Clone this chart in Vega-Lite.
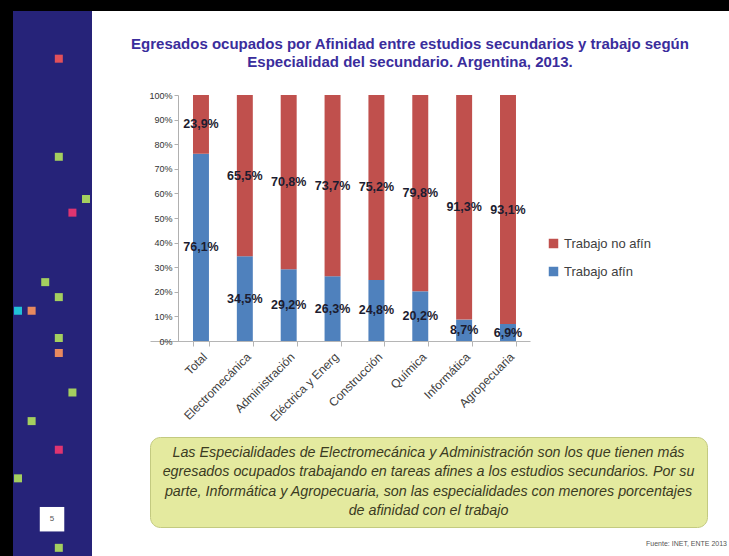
{
  "$schema": "https://vega.github.io/schema/vega-lite/v6.json",
  "background": "white",
  "padding": 0,
  "config": {
    "font": "Liberation Sans",
    "view": {"stroke": null},
    "locale": {"number": {"decimal": ",", "thousands": ".", "grouping": [3], "currency": ["$", ""]}}
  },
  "spacing": 0,
  "bounds": "flush",
  "hconcat": [
    {
      "width": 13, "height": 556,
      "view": {"fill": "black", "stroke": null},
      "data": {"values": []},
      "mark": "point",
      "encoding": {}
    },
    {
      "spacing": 0,
      "bounds": "flush",
      "vconcat": [
        {
          "width": 716, "height": 11,
          "view": {"fill": "black", "stroke": null},
          "data": {"values": []},
          "mark": "point",
          "encoding": {}
        },
        {
          "spacing": 58,
          "bounds": "flush",
          "hconcat": [
            {
              "width": 79, "height": 545,
              "view": {"fill": "#262379", "stroke": null},
              "data": {"values": [
                {"col": 3, "row": 3.5, "kind": "rojo"},
                {"col": 3, "row": 10.7, "kind": "verde"},
                {"col": 5, "row": 13.8, "kind": "verde"},
                {"col": 4, "row": 14.8, "kind": "rosa"},
                {"col": 2, "row": 19.9, "kind": "verde"},
                {"col": 3, "row": 21, "kind": "verde"},
                {"col": 0, "row": 22, "kind": "cian"},
                {"col": 1, "row": 22, "kind": "naranja"},
                {"col": 3, "row": 24, "kind": "verde"},
                {"col": 3, "row": 25.1, "kind": "naranja"},
                {"col": 4, "row": 28, "kind": "verde"},
                {"col": 1, "row": 30.1, "kind": "verde"},
                {"col": 3, "row": 32.2, "kind": "rosa"},
                {"col": 0, "row": 34.3, "kind": "verde"},
                {"col": 3, "row": 39.4, "kind": "verde"},
                {"col": 2.5, "row": 37.3, "kind": "pagina", "label": "5"}
              ]},
              "encoding": {
                "x": {"field": "col", "type": "quantitative", "axis": null, "scale": {"domain": [-0.37, 5.44], "nice": false, "zero": false}},
                "y": {"field": "row", "type": "quantitative", "axis": null, "scale": {"domain": [0, 40], "nice": false, "reverse": true}}
              },
              "layer": [
                {"transform": [{"filter": "datum.kind === 'verde'"}], "mark": {"type": "square", "size": 64, "opacity": 1, "color": "#a4cf5f"}},
                {"transform": [{"filter": "datum.kind === 'rojo'"}], "mark": {"type": "square", "size": 64, "opacity": 1, "color": "#e2505a"}},
                {"transform": [{"filter": "datum.kind === 'rosa'"}], "mark": {"type": "square", "size": 64, "opacity": 1, "color": "#df3470"}},
                {"transform": [{"filter": "datum.kind === 'cian'"}], "mark": {"type": "square", "size": 64, "opacity": 1, "color": "#21c2d8"}},
                {"transform": [{"filter": "datum.kind === 'naranja'"}], "mark": {"type": "square", "size": 64, "opacity": 1, "color": "#e8895f"}},
                {"transform": [{"filter": "datum.kind === 'pagina'"}], "mark": {"type": "square", "size": 600, "opacity": 1, "color": "white"}},
                {"transform": [{"filter": "datum.kind === 'pagina'"}], "mark": {"type": "text", "fontSize": 8, "color": "#555555", "baseline": "middle"}, "encoding": {"text": {"field": "label"}}}
              ]
            },
            {
              "spacing": 0,
              "bounds": "flush",
              "vconcat": [
                {
                  "width": 380, "height": 84,
                  "data": {"values": []},
                  "mark": "point",
                  "encoding": {}
                },
                {
                  "width": 380, "height": 246,
                  "title": {
                    "text": ["Egresados ocupados por Afinidad entre estudios secundarios y trabajo según", "Especialidad del secundario. Argentina, 2013."],
                    "fontSize": 15, "fontWeight": "bold", "color": "#3a2d9c", "font": "Liberation Sans",
                    "anchor": "middle", "frame": "group", "dx": 70, "offset": 21, "lineHeight": 18
                  },
                  "data": {"values": [
                    {"esp": "Total", "tipo": "Trabajo afín", "pct": 0.761},
                    {"esp": "Total", "tipo": "Trabajo no afín", "pct": 0.239},
                    {"esp": "Electromecánica", "tipo": "Trabajo afín", "pct": 0.345},
                    {"esp": "Electromecánica", "tipo": "Trabajo no afín", "pct": 0.655},
                    {"esp": "Administración", "tipo": "Trabajo afín", "pct": 0.292},
                    {"esp": "Administración", "tipo": "Trabajo no afín", "pct": 0.708},
                    {"esp": "Eléctrica y Energ", "tipo": "Trabajo afín", "pct": 0.263},
                    {"esp": "Eléctrica y Energ", "tipo": "Trabajo no afín", "pct": 0.737},
                    {"esp": "Construcción", "tipo": "Trabajo afín", "pct": 0.248},
                    {"esp": "Construcción", "tipo": "Trabajo no afín", "pct": 0.752},
                    {"esp": "Química", "tipo": "Trabajo afín", "pct": 0.202},
                    {"esp": "Química", "tipo": "Trabajo no afín", "pct": 0.798},
                    {"esp": "Informática", "tipo": "Trabajo afín", "pct": 0.087},
                    {"esp": "Informática", "tipo": "Trabajo no afín", "pct": 0.913},
                    {"esp": "Agropecuaria", "tipo": "Trabajo afín", "pct": 0.069},
                    {"esp": "Agropecuaria", "tipo": "Trabajo no afín", "pct": 0.931}
                  ]},
                  "encoding": {
                    "x": {
                      "field": "esp", "type": "nominal", "sort": null,
                      "scale": {"paddingInner": 0.636, "paddingOuter": 0.65, "align": 0.754},
                      "axis": {
                        "title": null, "labelAngle": -45, "labelFontSize": 12, "labelColor": "#404040",
                        "labelPadding": 5, "tickSize": 5, "tickBand": "extent",
                        "domainColor": "#b5b5b5", "tickColor": "#b5b5b5"
                      }
                    },
                    "y": {
                      "field": "pct", "type": "quantitative", "stack": "zero",
                      "scale": {"domain": [0, 1], "nice": false},
                      "axis": {
                        "title": null, "format": ".0%", "values": [0, 0.1, 0.2, 0.3, 0.4, 0.5, 0.6, 0.7, 0.8, 0.9, 1],
                        "labelFontSize": 9, "labelColor": "#333333", "grid": false,
                        "domainColor": "#b0b0b0", "tickColor": "#b0b0b0", "tickSize": 4, "labelPadding": 2,
                        "offset": -28
                      }
                    },
                    "order": {"field": "tipo", "sort": "ascending"}
                  },
                  "layer": [
                    {
                      "mark": {"type": "bar"},
                      "encoding": {
                        "color": {
                          "field": "tipo", "type": "nominal",
                          "scale": {"domain": ["Trabajo no afín", "Trabajo afín"], "range": ["#c0504d", "#4f81bd"]},
                          "legend": {
                            "title": null, "orient": "none", "legendX": 547, "legendY": 237,
                            "symbolType": "square", "symbolSize": 90, "symbolStrokeWidth": 0,
                            "labelFontSize": 13, "labelColor": "#404040", "rowPadding": 14,
                            "labelOffset": 4, "padding": 0
                          }
                        }
                      }
                    },
                    {
                      "mark": {"type": "text", "fontSize": 12.5, "fontWeight": "bold", "color": "#1c1c30", "baseline": "middle"},
                      "encoding": {
                        "y": {"field": "pct", "type": "quantitative", "stack": "zero", "bandPosition": 0.5},
                        "detail": {"field": "tipo"},
                        "text": {"field": "pct", "type": "quantitative", "format": ".1%"}
                      }
                    }
                  ]
                },
                {
                  "width": 380, "height": 96,
                  "data": {"values": []},
                  "mark": "point",
                  "encoding": {}
                },
                {
                  "width": 557, "height": 90,
                  "view": {"fill": "#e4ea9f", "stroke": "#c3ca80", "strokeWidth": 1, "cornerRadius": 10},
                  "title": {
                    "text": "Fuente: INET, ENTE 2013", "orient": "bottom", "anchor": "end", "frame": "group",
                    "fontSize": 7, "fontWeight": "normal", "color": "#555555", "dx": 20, "offset": 13
                  },
                  "data": {"values": [
                    {"linea": 1, "texto": "Las Especialidades de Electromecánica y Administración son los que tienen más"},
                    {"linea": 2, "texto": "egresados ocupados trabajando en tareas afines a los estudios secundarios. Por su"},
                    {"linea": 3, "texto": "parte, Informática y Agropecuaria, son las especialidades con menores porcentajes"},
                    {"linea": 4, "texto": "de afinidad con el trabajo"}
                  ]},
                  "mark": {"type": "text", "fontStyle": "italic", "fontSize": 14.3, "color": "#3b3b1f", "baseline": "middle"},
                  "encoding": {
                    "y": {"field": "linea", "type": "ordinal", "axis": null, "scale": {"type": "point", "padding": 0.85}},
                    "text": {"field": "texto"}
                  }
                }
              ]
            }
          ]
        }
      ]
    }
  ]
}
